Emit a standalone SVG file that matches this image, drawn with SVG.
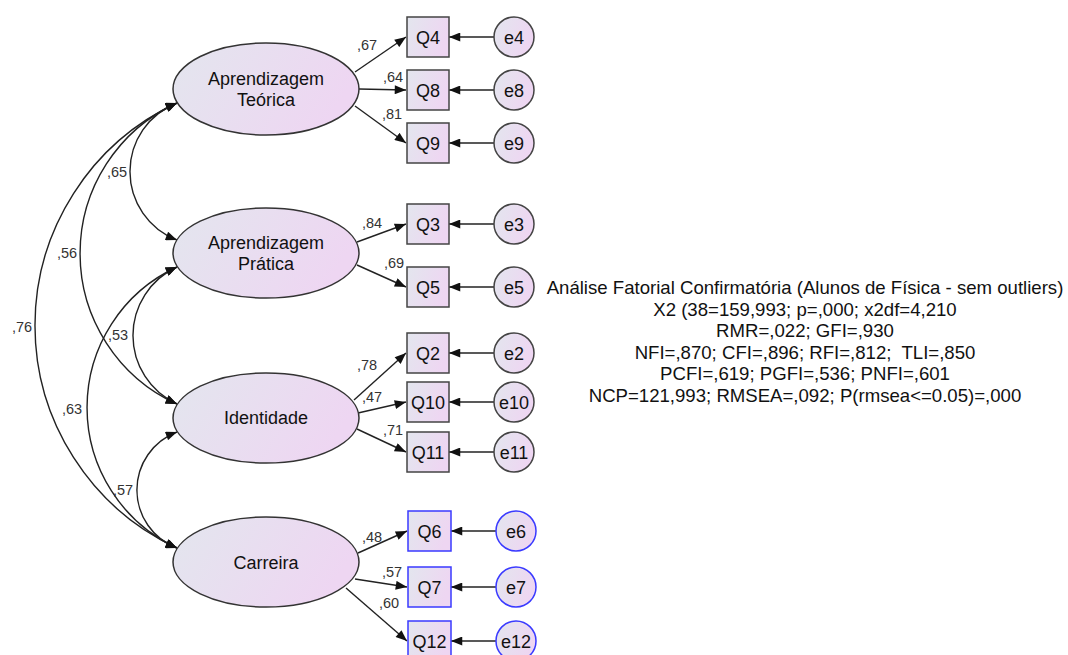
<svg xmlns="http://www.w3.org/2000/svg" width="1068" height="655" viewBox="0 0 1068 655">
<defs>
<linearGradient id="g" x1="0" y1="0" x2="1" y2="0.3">
<stop offset="0" stop-color="#e3e6ee"/>
<stop offset="1" stop-color="#eed6f2"/>
</linearGradient>
<marker id="ah" viewBox="0 0 10 8" refX="10" refY="4" markerWidth="12" markerHeight="9" markerUnits="userSpaceOnUse" orient="auto-start-reverse">
<path d="M0,0 L10,4 L0,8 z" fill="#111"/>
</marker>
</defs>
<style>
.lat{fill:url(#g);stroke:#333;stroke-width:1.5}
.obs{fill:url(#g);stroke:#444;stroke-width:1.5}
.blue{stroke:#3a3aff}
.t{font-family:"Liberation Sans",Arial,sans-serif;font-size:18px;fill:#111;text-anchor:middle}
.f{font-size:18.6px}
.lb{font-family:"Liberation Sans",Arial,sans-serif;font-size:14.5px;fill:#333;text-anchor:middle}
.a{fill:none;stroke:#222;stroke-width:1.4;marker-end:url(#ah)}
.d{fill:none;stroke:#222;stroke-width:1.4;marker-start:url(#ah);marker-end:url(#ah)}
</style>
<rect width="1068" height="655" fill="#fff"/>

<g id="connectors">
<path class="d" d="M177,103 A73.4,73.4 0 0 0 177,240"/>
<path class="d" d="M177,103 A165.3,165.3 0 0 0 177,404"/>
<path class="d" d="M177,103 A245.3,245.3 0 0 0 177,548"/>
<path class="d" d="M177,267 A75.3,75.3 0 0 0 177,404"/>
<path class="d" d="M177,267 A154.7,154.7 0 0 0 177,548"/>
<path class="d" d="M177,432 A62,62 0 0 0 177,548"/>
<line class="a" x1="355" y1="72" x2="406" y2="37"/>
<line class="a" x1="359" y1="89" x2="406" y2="90"/>
<line class="a" x1="355" y1="106" x2="406" y2="143"/>
<line class="a" x1="357" y1="242" x2="406" y2="224"/>
<line class="a" x1="357" y1="265" x2="406" y2="287"/>
<line class="a" x1="354" y1="400" x2="406" y2="353"/>
<line class="a" x1="358" y1="413" x2="406" y2="402"/>
<line class="a" x1="357" y1="429" x2="406" y2="452"/>
<line class="a" x1="358" y1="553" x2="407" y2="531"/>
<line class="a" x1="355" y1="579" x2="407" y2="587"/>
<line class="a" x1="346" y1="588" x2="407" y2="641"/>
<line class="a" x1="494" y1="37" x2="449" y2="37"/>
<line class="a" x1="494" y1="90" x2="449" y2="90"/>
<line class="a" x1="494" y1="143" x2="449" y2="143"/>
<line class="a" x1="494" y1="224" x2="449" y2="224"/>
<line class="a" x1="494" y1="287" x2="449" y2="287"/>
<line class="a" x1="494" y1="353" x2="449" y2="353"/>
<line class="a" x1="494" y1="402" x2="449" y2="402"/>
<line class="a" x1="494" y1="452" x2="449" y2="452"/>
<line class="a" x1="496" y1="531" x2="451" y2="531"/>
<line class="a" x1="496" y1="587" x2="451" y2="587"/>
<line class="a" x1="496" y1="641" x2="451" y2="641"/>
<text class="lb" x="117" y="177">,65</text>
<text class="lb" x="67" y="258">,56</text>
<text class="lb" x="22" y="332">,76</text>
<text class="lb" x="118" y="340">,53</text>
<text class="lb" x="72" y="414">,63</text>
<text class="lb" x="123" y="495">,57</text>
<text class="lb" x="367" y="50">,67</text>
<text class="lb" x="393" y="82">,64</text>
<text class="lb" x="392" y="119">,81</text>
<text class="lb" x="372" y="228">,84</text>
<text class="lb" x="394" y="268">,69</text>
<text class="lb" x="367" y="370">,78</text>
<text class="lb" x="372" y="402">,47</text>
<text class="lb" x="393" y="435">,71</text>
<text class="lb" x="372" y="542">,48</text>
<text class="lb" x="392" y="577">,57</text>
<text class="lb" x="389" y="608">,60</text>
</g>

<g id="AT"><ellipse class="lat" cx="266" cy="89" rx="93" ry="46"/><text class="t" x="266" y="85">Aprendizagem</text><text class="t" x="266" y="106">Teórica</text></g>
<g id="AP"><ellipse class="lat" cx="266" cy="253" rx="93" ry="45"/><text class="t" x="266" y="249">Aprendizagem</text><text class="t" x="266" y="270">Prática</text></g>
<g id="ID"><ellipse class="lat" cx="266" cy="418" rx="93" ry="45"/><text class="t" x="266" y="424">Identidade</text></g>
<g id="CA"><ellipse class="lat" cx="266" cy="562" rx="93" ry="45"/><text class="t" x="266" y="569">Carreira</text></g>

<g id="Q4"><rect class="obs" x="407" y="17" width="42" height="40"/><text class="t" x="428" y="43.5">Q4</text></g>
<g id="Q8"><rect class="obs" x="407" y="70" width="42" height="40"/><text class="t" x="428" y="96.5">Q8</text></g>
<g id="Q9"><rect class="obs" x="407" y="123" width="42" height="40"/><text class="t" x="428" y="149.5">Q9</text></g>
<g id="Q3"><rect class="obs" x="407" y="204" width="42" height="40"/><text class="t" x="428" y="230.5">Q3</text></g>
<g id="Q5"><rect class="obs" x="407" y="267" width="42" height="40"/><text class="t" x="428" y="293.5">Q5</text></g>
<g id="Q2"><rect class="obs" x="407" y="333" width="42" height="40"/><text class="t" x="428" y="359.5">Q2</text></g>
<g id="Q10"><rect class="obs" x="407" y="382" width="42" height="40"/><text class="t" x="428" y="408.5">Q10</text></g>
<g id="Q11"><rect class="obs" x="407" y="432" width="42" height="40"/><text class="t" x="428" y="458.5">Q11</text></g>
<g id="Q6"><rect class="obs blue" x="408" y="511" width="43" height="40"/><text class="t" x="429.5" y="537.5">Q6</text></g>
<g id="Q7"><rect class="obs blue" x="408" y="567" width="43" height="40"/><text class="t" x="429.5" y="593.5">Q7</text></g>
<g id="Q12"><rect class="obs blue" x="408" y="621" width="43" height="40"/><text class="t" x="429.5" y="647.5">Q12</text></g>

<g id="e4"><circle class="obs" cx="514" cy="37" r="20"/><text class="t" x="514" y="43.5">e4</text></g>
<g id="e8"><circle class="obs" cx="514" cy="90" r="20"/><text class="t" x="514" y="96.5">e8</text></g>
<g id="e9"><circle class="obs" cx="514" cy="143" r="20"/><text class="t" x="514" y="149.5">e9</text></g>
<g id="e3"><circle class="obs" cx="514" cy="224" r="20"/><text class="t" x="514" y="230.5">e3</text></g>
<g id="e5"><circle class="obs" cx="514" cy="287" r="20"/><text class="t" x="514" y="293.5">e5</text></g>
<g id="e2"><circle class="obs" cx="514" cy="353" r="20"/><text class="t" x="514" y="359.5">e2</text></g>
<g id="e10"><circle class="obs" cx="514" cy="402" r="20"/><text class="t" x="514" y="408.5">e10</text></g>
<g id="e11"><circle class="obs" cx="514" cy="452" r="20"/><text class="t" x="514" y="458.5">e11</text></g>
<g id="e6"><circle class="obs blue" cx="516" cy="531" r="20"/><text class="t" x="516" y="537.5">e6</text></g>
<g id="e7"><circle class="obs blue" cx="516" cy="587" r="20"/><text class="t" x="516" y="593.5">e7</text></g>
<g id="e12"><circle class="obs blue" cx="516" cy="641" r="20"/><text class="t" x="516" y="647.5">e12</text></g>

<g id="fit">
<text class="t f" x="805" y="294">Análise Fatorial Confirmatória (Alunos de Física - sem outliers)</text>
<text class="t f" x="805" y="315.5">X2 (38=159,993; p=,000; x2df=4,210</text>
<text class="t f" x="805" y="337">RMR=,022; GFI=,930</text>
<text class="t f" x="805" y="358.5" xml:space="preserve">NFI=,870; CFI=,896; RFI=,812;  TLI=,850</text>
<text class="t f" x="805" y="380">PCFI=,619; PGFI=,536; PNFI=,601</text>
<text class="t f" x="805" y="401.5">NCP=121,993; RMSEA=,092; P(rmsea&lt;=0.05)=,000</text>
</g>
</svg>
